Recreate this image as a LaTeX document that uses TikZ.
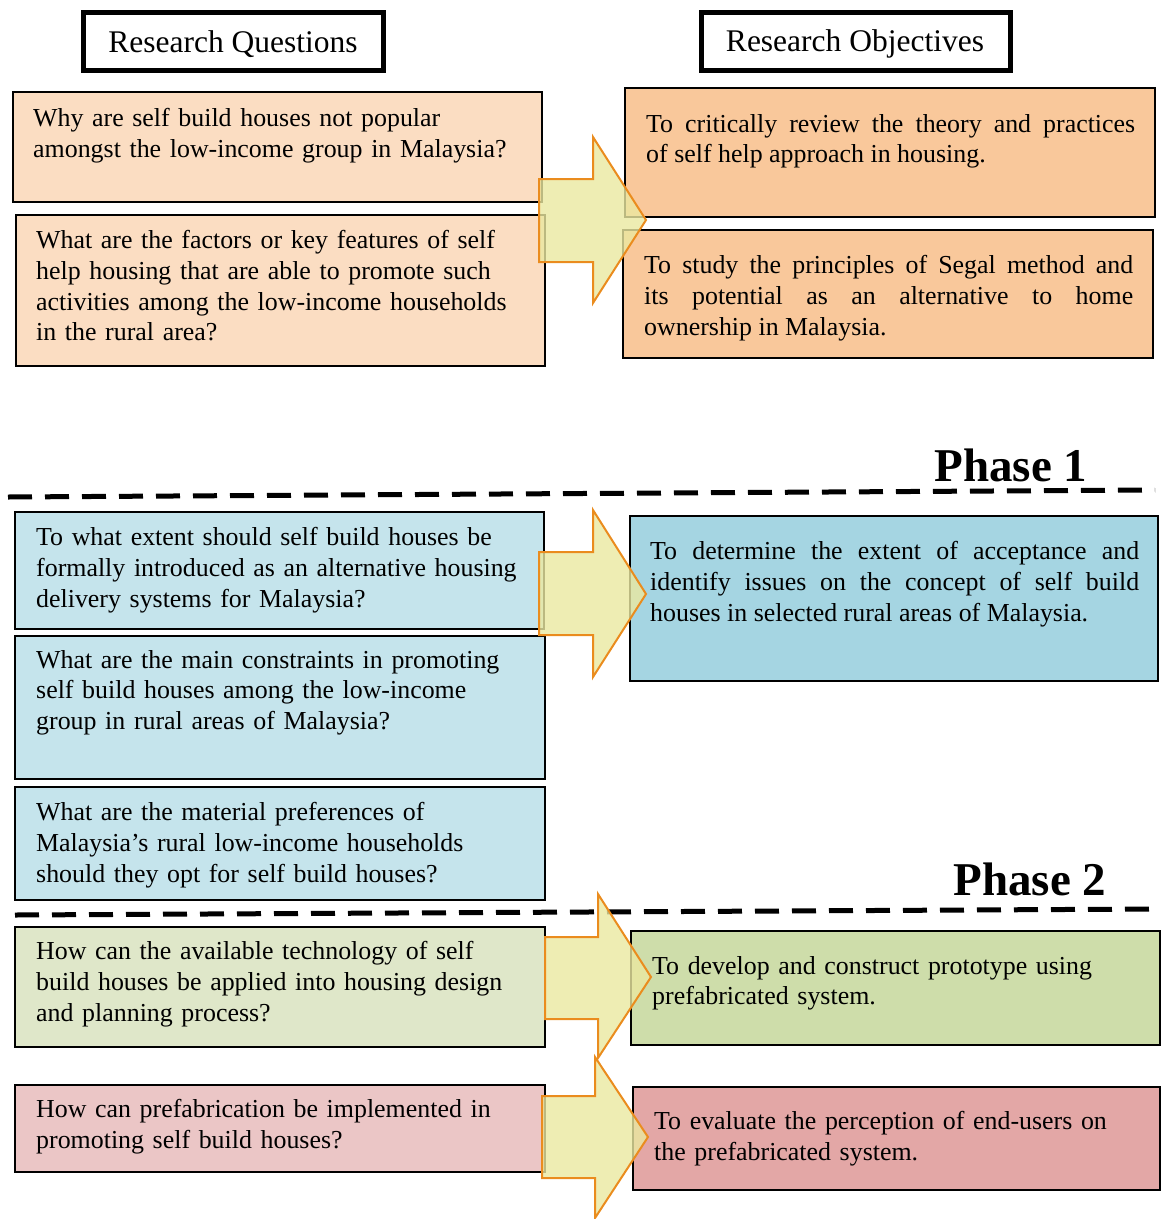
\documentclass[tikz,border=0pt]{standalone}
\usepackage{fontspec}
\setmainfont{Liberation Serif}
\begin{document}
\begin{tikzpicture}[x=1pt,y=-1pt,
  box/.style={draw=black, line width=1.5pt, inner sep=0pt, outer sep=0pt, anchor=north west},
  headbox/.style={draw=black, line width=5pt, inner sep=0pt, outer sep=0pt, fill=white},
  headtext/.style={inner sep=0pt, font=\fontsize{31.5}{36}\selectfont},
  ltext/.style={anchor=north west, inner sep=0pt, text width=510pt, align=left, font=\fontsize{25.9}{30.8}\selectfont},
  jtext/.style={anchor=north west, inner sep=0pt, text width=489pt, align=justify, font=\fontsize{25.9}{30.8}\selectfont},
  phase/.style={inner sep=0pt, font=\fontsize{47}{52}\selectfont\bfseries},
  phaseline/.style={line width=5pt, dash pattern=on 24pt off 13pt},
  blockarrow/.style={draw=arrowor, line width=2pt, fill=arrowfill, fill opacity=0.8, line join=miter}
]
\definecolor{peachL}{RGB}{251,221,194}
\definecolor{peachR}{RGB}{249,200,155}
\definecolor{blueL}{RGB}{197,228,236}
\definecolor{blueR}{RGB}{165,213,226}
\definecolor{greenL}{RGB}{223,231,201}
\definecolor{greenR}{RGB}{206,221,170}
\definecolor{pinkL}{RGB}{235,198,198}
\definecolor{pinkR}{RGB}{227,167,166}
\definecolor{arrowor}{RGB}{234,140,30}
\definecolor{arrowfill}{RGB}{234,232,160}

\useasboundingbox (0,0) rectangle (1162,1219);

% headers
\node[headbox, minimum width=300pt, minimum height=58pt, anchor=north west] (hq) at (83,12) {};
\node[headtext] (hqt) at (233,44) {Research Questions};
\node[headbox, minimum width=309pt, minimum height=58pt, anchor=north west] (ho) at (701,12) {};
\node[headtext] (hot) at (855,44) {Research Objectives};

% section 1 boxes
\node[box, fill=peachL, minimum width=529pt, minimum height=110pt] (q1) at (13,92) {};
\node[box, fill=peachL, minimum width=529pt, minimum height=151pt] (q2) at (16,215) {};
\node[box, fill=peachR, minimum width=530pt, minimum height=129pt] (o1) at (625,88) {};
\node[box, fill=peachR, minimum width=530pt, minimum height=128pt] (o2) at (623,230) {};

\node[ltext] (q1t) at (33,108) {Why are self build houses not popular\\amongst the low-income group in Malaysia?};
\node[ltext] (q2t) at (36,230) {What are the factors or key features of self\\help housing that are able to promote such\\activities among the low-income households\\in the rural area?};
\node[jtext] (o1t) at (646,114) {To critically review the theory and practices\linebreak of self help approach in housing.};
\node[jtext] (o2t) at (644,255) {To study the principles of Segal method and\linebreak its potential as an alternative to home\linebreak ownership in Malaysia.};

% phase 1
\node[phase] (p1) at (1011,465) {Phase 1};
\coordinate (l1a) at (8,497);
\coordinate (l1b) at (1155,490);
\draw[phaseline] (l1a) -- (l1b);

% section 2 boxes
\node[box, fill=blueL, minimum width=529pt, minimum height=117pt] (q3) at (15,512) {};
\node[box, fill=blueL, minimum width=530pt, minimum height=143pt] (q4) at (15,636) {};
\node[box, fill=blueL, minimum width=530pt, minimum height=113pt] (q5) at (15,787) {};
\node[box, fill=blueR, minimum width=528pt, minimum height=165pt] (o3) at (630,516) {};

\node[ltext] (q3t) at (36,527) {To what extent should self build houses be\\formally introduced as an alternative housing\\delivery systems for Malaysia?};
\node[ltext] (q4t) at (36,650) {What are the main constraints in promoting\\self build houses among the low-income\\group in rural areas of Malaysia?};
\node[ltext] (q5t) at (36,802) {What are the material preferences of\\Malaysia’s rural low-income households\\should they opt for self build houses?};
\node[jtext] (o3t) at (650,541) {To determine the extent of acceptance and\linebreak identify issues on the concept of self build\linebreak houses in selected rural areas of Malaysia.};

% phase 2
\node[phase] (p2) at (1030,879) {Phase 2};
\coordinate (l2a) at (15,915);
\coordinate (l2b) at (1158,909);
\draw[phaseline] (l2a) -- (l2b);

% section 3 boxes
\node[box, fill=greenL, minimum width=530pt, minimum height=120pt] (q6) at (15,927) {};
\node[box, fill=greenR, minimum width=529pt, minimum height=114pt] (o4) at (631,931) {};
\node[box, fill=pinkL, minimum width=530pt, minimum height=87pt] (q7) at (15,1085) {};
\node[box, fill=pinkR, minimum width=527pt, minimum height=103pt] (o5) at (633,1087) {};

\node[ltext] (q6t) at (36,941) {How can the available technology of self\\build houses be applied into housing design\\and planning process?};
\node[ltext] (o4t) at (652,956) {To develop and construct prototype using\\prefabricated system.};
\node[ltext] (q7t) at (36,1099) {How can prefabrication be implemented in\\promoting self build houses?};
\node[ltext] (o5t) at (654,1111) {To evaluate the perception of end-users on\\the prefabricated system.};

% block arrows
\draw[blockarrow] (539,179) -- (593,179) -- (593,137) -- (646,220) -- (593,303) -- (593,262) -- (539,262) -- cycle;
\draw[blockarrow] (539,552) -- (593,552) -- (593,510) -- (646,594) -- (593,677) -- (593,635) -- (539,635) -- cycle;
\draw[blockarrow] (545,937) -- (598,937) -- (598,894) -- (651,977) -- (598,1058) -- (598,1019) -- (545,1019) -- cycle;
\draw[blockarrow] (542,1096) -- (595,1096) -- (595,1057) -- (648,1137) -- (595,1218) -- (595,1178) -- (542,1178) -- cycle;
\end{tikzpicture}
\end{document}
